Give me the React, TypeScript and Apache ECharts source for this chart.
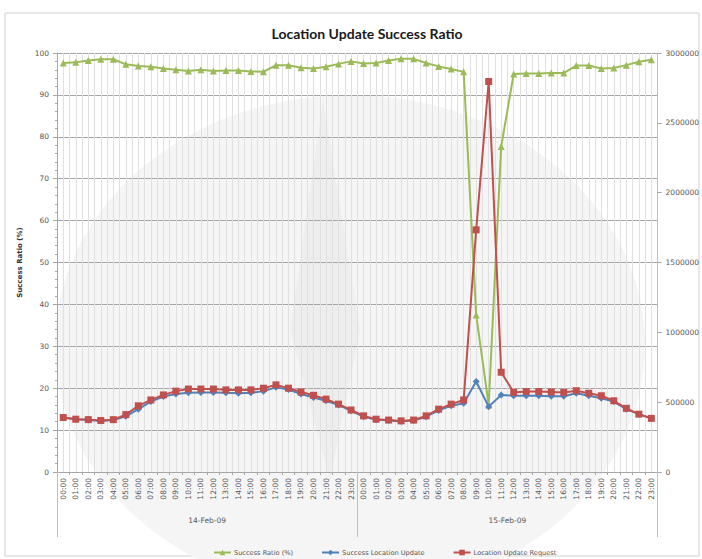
import React, { useEffect, useRef } from "react";
import * as echarts from "echarts";

const hours = [
  "00:00","01:00","02:00","03:00","04:00","05:00","06:00","07:00","08:00","09:00","10:00","11:00",
  "12:00","13:00","14:00","15:00","16:00","17:00","18:00","19:00","20:00","21:00","22:00","23:00",
];
const categories = [...hours, ...hours];
const days = ["14-Feb-09", "15-Feb-09"];

const successRatio = [
  97.6, 97.8, 98.2, 98.5, 98.5, 97.3, 96.9, 96.7, 96.3, 96.0, 95.7, 96.0,
  95.7, 95.8, 95.8, 95.6, 95.5, 97.1, 97.1, 96.5, 96.3, 96.7, 97.4, 98.0,
  97.5, 97.6, 98.2, 98.6, 98.6, 97.6, 96.8, 96.2, 95.5, 37.5, 16.0, 77.7,
  95.0, 95.1, 95.1, 95.2, 95.2, 97.0, 97.0, 96.3, 96.4, 97.1, 97.9, 98.4,
];

const successLocationUpdate = [
  390000, 378000, 372000, 366000, 372000, 399000, 450000, 504000, 540000, 558000, 567000, 570000,
  570000, 567000, 564000, 567000, 579000, 606000, 591000, 558000, 534000, 510000, 480000, 438000,
  396000, 375000, 369000, 363000, 369000, 396000, 441000, 474000, 492000, 648000, 468000, 552000,
  546000, 546000, 546000, 543000, 543000, 564000, 546000, 528000, 504000, 450000, 414000, 384000,
];

const locationUpdateRequest = [
  390000, 378000, 375000, 369000, 375000, 411000, 474000, 516000, 552000, 579000, 594000, 594000,
  594000, 588000, 588000, 588000, 600000, 624000, 600000, 573000, 549000, 522000, 486000, 444000,
  402000, 378000, 372000, 366000, 372000, 402000, 450000, 486000, 516000, 1734000, 2796000, 714000,
  570000, 576000, 576000, 573000, 570000, 582000, 564000, 546000, 510000, 456000, 414000, 384000,
];

const FONT = "DejaVu Sans";

export default function App() {
  const ref = useRef<HTMLDivElement>(null);
  useEffect(() => {
    if (!ref.current) return;
    const chart = echarts.init(ref.current, null, { renderer: "svg" });
    chart.setOption({
      animation: false,
      backgroundColor: "#ffffff",
      title: {
        text: "Location Update Success Ratio",
        left: 362,
        textAlign: "center",
        top: 21,
        textStyle: { fontFamily: "Lato", fontWeight: "bold", fontSize: 14, color: "#1a1a1a" },
      },
      graphic: [
        {
          type: "rect",
          z: -100,
          shape: { x: 5, y: 13, width: 694, height: 543 },
          style: { fill: "none", stroke: "#d0d0d0", lineWidth: 1 },
        },
        {
          type: "ellipse",
          z: -100,
          shape: { cx: 350, cy: 345, rx: 295, ry: 250 },
          style: { fill: "#f5f5f5" },
        },
        {
          type: "polygon",
          z: -99,
          shape: { points: [[323, 100], [360, 330], [330, 480], [290, 330]] },
          style: { fill: "#eeeeee" },
        },
      ],
      legend: {
        left: 208,
        top: 544,
        itemWidth: 17,
        itemHeight: 7,
        itemGap: 28,
        textStyle: { fontFamily: FONT, fontSize: 6.6, color: "#555", padding: [0, 0, 0, -2] },
        data: ["Success Ratio (%)", "Success Location Update", "Location Update Request"],
      },
      grid: { left: 57, right: 34, top: 53, bottom: 87, containLabel: false },
      xAxis: [
        {
          type: "category",
          data: categories,
          boundaryGap: true,
          position: "bottom",
          axisLine: { show: true, lineStyle: { color: "#a6a6a6" } },
          axisTick: { show: true, interval: 0, length: 3, lineStyle: { color: "#a6a6a6" } },
          axisLabel: {
            interval: 0,
            rotate: 90,
            margin: 6,
            fontFamily: FONT,
            fontSize: 7.5,
            color: "#555",
          },
          splitLine: { show: false },
        },
        {
          type: "value",
          min: 0,
          max: 96,
          interval: 1,
          position: "top",
          axisLine: { show: false },
          axisTick: { show: false },
          axisLabel: { show: false },
          splitLine: { show: true, lineStyle: { color: "#e0e0e0", width: 1 } },
        },
        {
          type: "category",
          data: days,
          boundaryGap: true,
          position: "bottom",
          axisLine: { show: false },
          axisTick: { show: true, interval: 0, length: 65, lineStyle: { color: "#bfbfbf" } },
          axisLabel: { margin: 44, fontFamily: FONT, fontSize: 7.5, color: "#555" },
          splitLine: { show: false },
        },
      ],
      yAxis: [
        {
          type: "value",
          min: 0,
          max: 100,
          interval: 10,
          name: "Success Ratio (%)",
          nameLocation: "middle",
          nameGap: 33,
          nameRotate: 90,
          nameTextStyle: { fontFamily: FONT, fontSize: 7, fontWeight: "bold", color: "#333" },
          axisLine: { show: true, lineStyle: { color: "#a6a6a6" } },
          axisTick: { show: true, length: 4, lineStyle: { color: "#a6a6a6" } },
          minorTick: { show: true, splitNumber: 5, length: 2, lineStyle: { color: "#a6a6a6" } },
          axisLabel: { fontFamily: FONT, fontSize: 7.5, color: "#555", margin: 8 },
          splitLine: { show: true, lineStyle: { color: "#a6a6a6", width: 1 } },
        },
        {
          type: "value",
          min: 0,
          max: 3000000,
          interval: 500000,
          position: "right",
          axisLine: { show: true, lineStyle: { color: "#bfbfbf" } },
          axisTick: { show: true, length: 4, lineStyle: { color: "#a6a6a6" } },
          axisLabel: {
            fontFamily: FONT,
            fontSize: 7.5,
            color: "#555",
            margin: 8,
            formatter: (v: number) => String(v),
          },
          splitLine: { show: false },
        },
      ],
      series: [
        {
          name: "Success Ratio (%)",
          type: "line",
          xAxisIndex: 0,
          yAxisIndex: 0,
          data: successRatio,
          symbol: "triangle",
          symbolSize: 7,
          lineStyle: { color: "#9bbb59", width: 2 },
          itemStyle: { color: "#9bbb59" },
          z: 3,
        },
        {
          name: "Success Location Update",
          type: "line",
          xAxisIndex: 0,
          yAxisIndex: 1,
          data: successLocationUpdate,
          symbol: "diamond",
          symbolSize: 7,
          lineStyle: { color: "#4f81bd", width: 2 },
          itemStyle: { color: "#4f81bd" },
          z: 4,
        },
        {
          name: "Location Update Request",
          type: "line",
          xAxisIndex: 0,
          yAxisIndex: 1,
          data: locationUpdateRequest,
          symbol: "rect",
          symbolSize: 7,
          lineStyle: { color: "#c0504d", width: 2 },
          itemStyle: { color: "#c0504d" },
          z: 5,
        },
      ],
    });
    return () => chart.dispose();
  }, []);
  return <div ref={ref} style={{ width: 702, height: 559, position: "fixed", left: 0, top: 0 }} />;
}
